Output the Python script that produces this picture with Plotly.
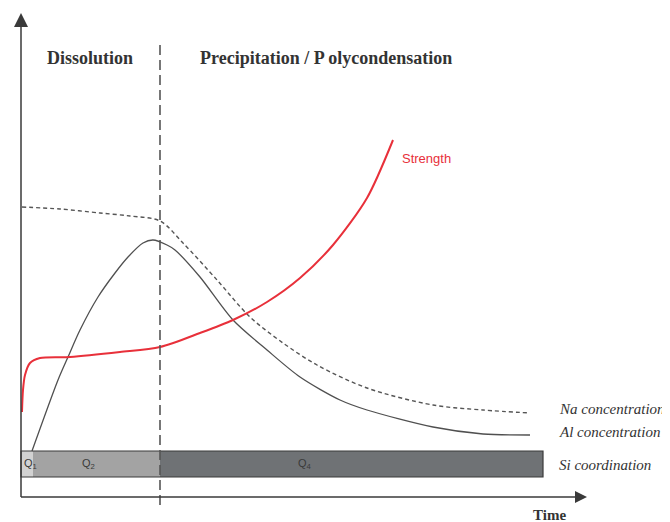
import plotly.graph_objects as go

# ---- data (time on x, level on y; origin at the axes' corner) ----
strength_t = [1, 2, 4, 9, 19, 49, 99, 139, 179, 212, 246, 279, 312, 346, 372]
strength_v = [85, 107, 122, 134, 139, 140, 145, 150, 164, 177, 195, 219, 252, 299, 357]

al_t = [11, 37, 47, 59, 77, 94, 107, 122, 132, 146, 154, 179, 212, 246, 279, 319, 346, 412, 462, 509]
al_v = [46, 117, 140, 167, 200, 224, 240, 254, 257, 252, 247, 220, 177, 147, 120, 97, 87, 70, 63, 62]

na_t = [1, 39, 79, 109, 139, 162, 196, 229, 262, 296, 346, 412, 462, 509]
na_v = [290, 288, 284, 281, 276, 254, 217, 180, 154, 132, 109, 92, 87, 84]

si_phases = ["Q<sub>1</sub>", "Q<sub>2</sub>", "Q<sub>4</sub>"]
si_start = [0, 12, 139]
si_end = [12, 139, 522]
si_colors = ["#d2d2d2", "#a3a3a3", "#6f7275"]
si_level = 33
si_thickness = 26

boundary_t = 139

fig = go.Figure()

# Si coordination bar
for name, s, e, c in zip(si_phases, si_start, si_end, si_colors):
    fig.add_trace(go.Bar(orientation="h", y=[si_level], x=[e - s], base=[s],
                         width=si_thickness, marker=dict(color=c, line=dict(width=0)),
                         showlegend=False, hoverinfo="skip"))
fig.add_shape(type="rect", x0=si_start[0], x1=si_end[-1],
              y0=si_level - si_thickness / 2, y1=si_level + si_thickness / 2,
              line=dict(color="#3a3a3a", width=1.2), fillcolor="rgba(0,0,0,0)")
label_x = [9, 67, 284]
for name, lx in zip(si_phases, label_x):
    fig.add_annotation(x=lx, y=si_level, text=name,
                       showarrow=False, font=dict(family="Liberation Sans", size=11, color="#3a3a3a"),
                       xanchor="center", yanchor="middle")

# Na concentration (dashed)
fig.add_trace(go.Scatter(x=na_t, y=na_v, mode="lines",
                         line=dict(color="#555555", width=1.4, dash="4px,3px", shape="spline", smoothing=0.9),
                         showlegend=False, hoverinfo="skip"))
# Al concentration (solid)
fig.add_trace(go.Scatter(x=al_t, y=al_v, mode="lines",
                         line=dict(color="#505050", width=1.3, shape="spline", smoothing=0.8),
                         showlegend=False, hoverinfo="skip"))
# Strength (red)
fig.add_trace(go.Scatter(x=strength_t, y=strength_v, mode="lines",
                         line=dict(color="#e8303a", width=2, shape="spline", smoothing=0.8),
                         showlegend=False, hoverinfo="skip"))

# boundary dashed line
fig.add_shape(type="line", x0=boundary_t, x1=boundary_t, y0=-8, y1=452,
              line=dict(color="#555555", width=1.6, dash="10px,5px"))

# axes with arrows
ax_col = "#3a3a3a"
fig.add_shape(type="line", x0=0, x1=0, y0=0, y1=472, line=dict(color=ax_col, width=1.5))
fig.add_shape(type="line", x0=0, x1=556, y0=0, y1=0, line=dict(color=ax_col, width=1.5))
fig.add_shape(type="path", path="M -7 470 L 7 470 L 0 484 Z", fillcolor=ax_col, line=dict(width=0))
fig.add_shape(type="path", path="M 554 6 L 554 -6 L 566 0 Z", fillcolor=ax_col, line=dict(width=0))

serif_b = dict(family="Liberation Serif", size=18, color="#333333")
fig.add_annotation(x=69, y=439, text="<b>Dissolution</b>", showarrow=False, font=serif_b)
fig.add_annotation(x=305, y=439, text="<b>Precipitation / P olycondensation</b>", showarrow=False, font=serif_b)
fig.add_annotation(x=528, y=-18, text="<b>Time</b>", showarrow=False,
                   font=dict(family="Liberation Serif", size=15, color="#333333"))
fig.add_annotation(x=379, y=339, text="Strength", showarrow=False, xanchor="left",
                   font=dict(family="Liberation Sans", size=13, color="#e8303a"))

serif_i = dict(family="Liberation Serif", size=15, color="#333333")
for txt, yy in [("Na concentration", 88), ("Al concentration", 65), ("Si coordination", 32)]:
    fig.add_annotation(x=536, y=yy, text="<i>" + txt + "</i>", showarrow=False,
                       xanchor="left", yanchor="middle", font=serif_i)

# the page places the plot 8px from its top-left corner
fig.update_layout(width=662, height=514, autosize=False,
                  margin=dict(l=0, r=0, t=0, b=0),
                  paper_bgcolor="white", plot_bgcolor="white",
                  barmode="overlay", bargap=0,
                  xaxis=dict(range=[-13, 649], visible=False, fixedrange=True),
                  yaxis=dict(range=[-25, 489], visible=False, fixedrange=True))

fig.write_html("out.html")
